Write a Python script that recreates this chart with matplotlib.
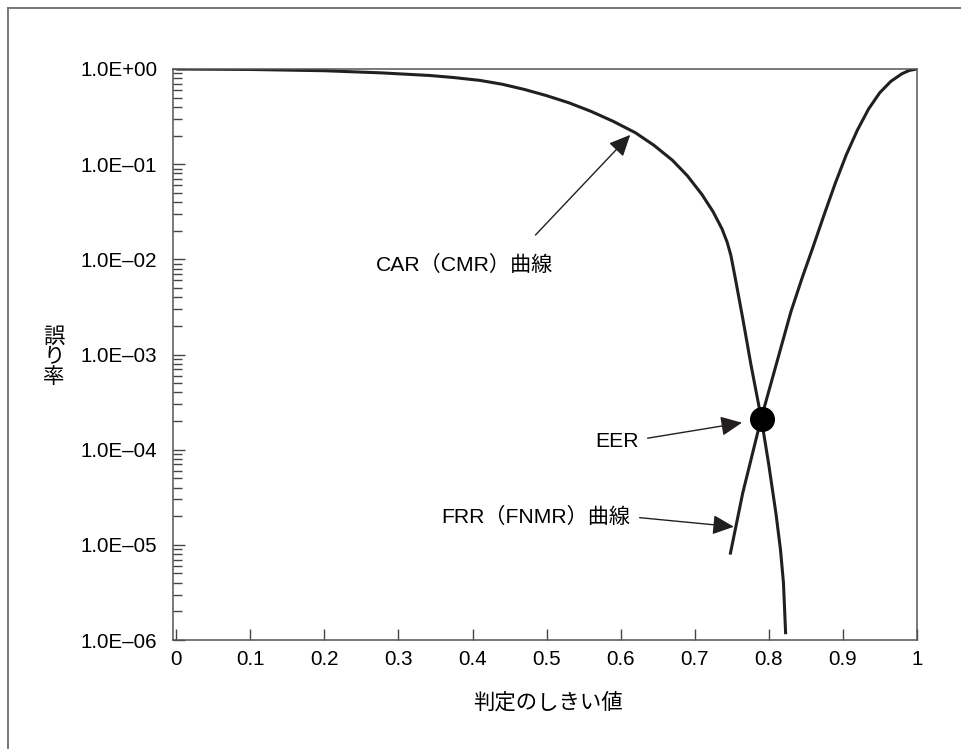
import numpy as np
import matplotlib.pyplot as plt
from matplotlib.ticker import FixedLocator, LogLocator, NullFormatter
from matplotlib.lines import Line2D

plt.rcParams['font.family'] = ['Liberation Sans', 'Noto Sans CJK JP', 'DejaVu Sans']

# しきい値と誤り率
car_x = [0.0, 0.1, 0.2, 0.275, 0.342, 0.375, 0.41, 0.44, 0.47, 0.50, 0.53, 0.56,
         0.59, 0.62, 0.645, 0.67, 0.69, 0.71, 0.725, 0.737, 0.744, 0.749, 0.755,
         0.765, 0.776, 0.79, 0.80, 0.81, 0.816, 0.82, 0.823]
car_y = [1.0, 0.989, 0.959, 0.912, 0.855, 0.813, 0.759, 0.692, 0.610, 0.525, 0.442, 0.359,
         0.282, 0.214, 0.158, 0.110, 0.0759, 0.0479, 0.0316, 0.0209, 0.0151, 0.0110, 6.3e-3,
         2.4e-3, 7.9e-4, 2.14e-4, 7.1e-5, 2.1e-5, 8.9e-6, 4.0e-6, 1.15e-6]

frr_x = [0.748, 0.765, 0.79, 0.805, 0.83, 0.845, 0.86, 0.875, 0.89, 0.905,
         0.92, 0.935, 0.95, 0.965, 0.98, 0.99, 1.0]
frr_y = [7.9e-6, 3.5e-5, 2.14e-4, 5.6e-4, 2.8e-3, 6.3e-3, 1.35e-2, 2.95e-2, 6.3e-2, 0.126,
         0.229, 0.380, 0.562, 0.741, 0.891, 0.966, 1.0]

eer_x, eer_y = 0.791, 2.1e-4

y_ticks = [1e0, 1e-1, 1e-2, 1e-3, 1e-4, 1e-5, 1e-6]
y_labels = ['1.0E+00', '1.0E\u201301', '1.0E\u201302', '1.0E\u201303',
            '1.0E\u201304', '1.0E\u201305', '1.0E\u201306']
x_ticks = [0, 0.1, 0.2, 0.3, 0.4, 0.5, 0.6, 0.7, 0.8, 0.9, 1]
x_labels = ['0', '0.1', '0.2', '0.3', '0.4', '0.5', '0.6', '0.7', '0.8', '0.9', '1']

W, H = 962, 749
ink = '#231f20'
fig = plt.figure(figsize=(W / 100, H / 100), dpi=100)
ax = fig.add_axes([172.7 / W, 1 - 640 / H, (916.7 - 172.7) / W, (640 - 69) / H])

ax.plot(car_x, car_y, color=ink, lw=2.2, solid_capstyle='butt', solid_joinstyle='round')
ax.plot(frr_x, frr_y, color=ink, lw=2.2, solid_capstyle='butt', solid_joinstyle='round')
ax.plot([eer_x], [eer_y], 'o', color='black', markersize=17, zorder=5)

ax.set_yscale('log')
ax.set_ylim(1e-6, 1)
ax.set_xlim(-0.005, 1.0)

ax.yaxis.set_major_locator(FixedLocator(y_ticks))
ax.set_yticklabels(y_labels)
ax.yaxis.set_minor_locator(LogLocator(base=10, subs=np.arange(2, 10)))
ax.yaxis.set_minor_formatter(NullFormatter())
ax.set_xticks(x_ticks)
ax.set_xticklabels(x_labels)

ax.tick_params(axis='y', which='major', direction='in', length=8.6, width=1.0,
               color='#444444', labelsize=14.8, pad=11, right=False)
ax.tick_params(axis='y', which='minor', direction='in', length=6.8, width=1.0,
               color='#444444', right=False)
ax.tick_params(axis='x', which='major', direction='in', length=7.7, width=1.0,
               color='#444444', labelsize=14.8, pad=7, top=False)
for s in ax.spines.values():
    s.set_color('#555555')
    s.set_linewidth(1.1)

# 注釈
arrow = dict(arrowstyle='-|>,head_length=0.65,head_width=0.3', color=ink,
             lw=1.0, shrinkA=0, shrinkB=0, mutation_scale=20)
ax.annotate('', xy=(0.613, 0.203), xytext=(0.485, 0.018), arrowprops=arrow)
ax.annotate('', xy=(0.764, 1.92e-4), xytext=(0.6365, 1.32e-4), arrowprops=arrow)
ax.annotate('', xy=(0.753, 1.55e-5), xytext=(0.6257, 1.93e-5), arrowprops=arrow)

ax.text(0.389, 8.7e-3, 'CAR（CMR）曲線', fontsize=15.2, ha='center', va='center')
ax.text(0.595, 1.23e-4, 'EER', fontsize=15.2, ha='center', va='center')
ax.text(0.486, 1.98e-5, 'FRR（FNMR）曲線', fontsize=15.2, ha='center', va='center')

fig.text(548 / W, 1 - 702.7 / H, '判定のしきい値', fontsize=15.4, ha='center', va='center')
fig.text(54 / W, 1 - 357 / H, '誤\nり\n率', fontsize=15.4, ha='center', va='center',
         linespacing=1.05)

# 外枠
fig.add_artist(Line2D([8 / W, 8 / W], [0, 1 - 8 / H], color='#777777', lw=1.4))
fig.add_artist(Line2D([8 / W, 1], [1 - 8 / H, 1 - 8 / H], color='#777777', lw=1.4))

fig.savefig('out.png', dpi=100)
